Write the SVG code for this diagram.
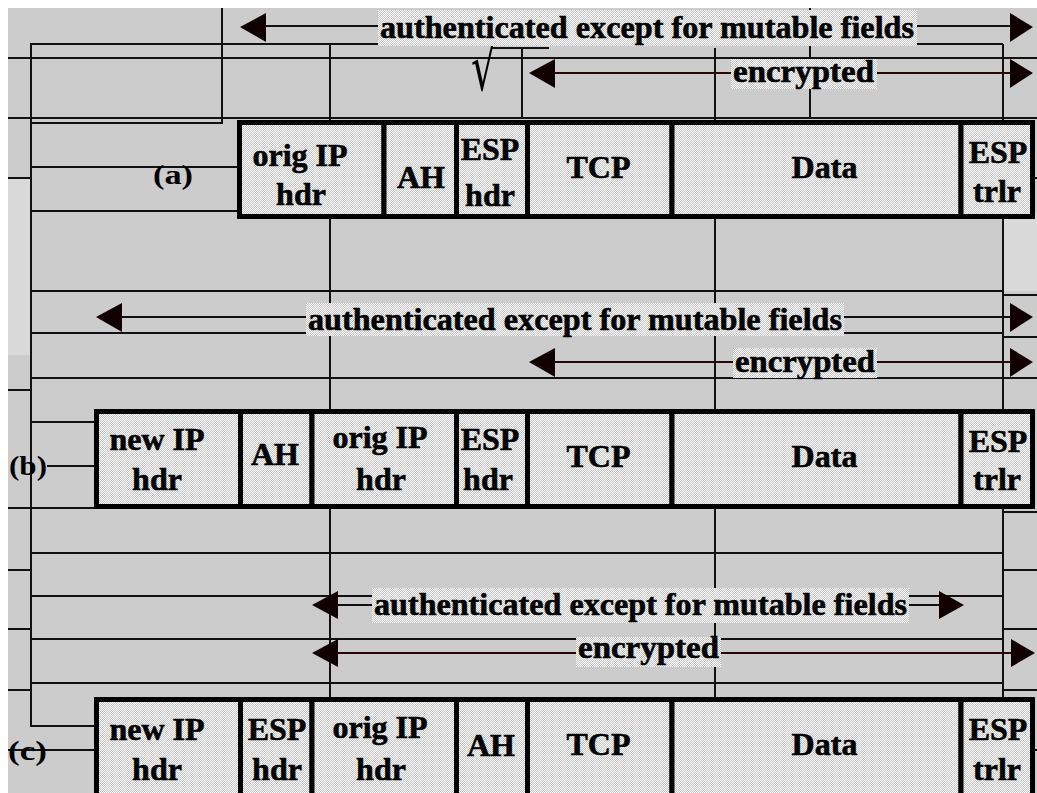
<svg xmlns="http://www.w3.org/2000/svg" width="1037" height="793" viewBox="0 0 1037 793">
<defs>
<pattern id="dith" width="2" height="2" patternUnits="userSpaceOnUse">
<rect width="2" height="2" fill="#c4c4c4"/>
<rect x="0" y="0" width="1" height="1" fill="#ffffff"/>
<rect x="1" y="1" width="1" height="1" fill="#ffffff"/>
</pattern>
</defs>
<style>
.g line{stroke:#111;stroke-width:2}
.cell{fill:url(#dith);stroke:#000;stroke-width:5}
.t{font-family:"Liberation Serif","Times New Roman",serif;font-weight:bold;font-size:32px;fill:#000;stroke:#000;stroke-width:0.6}
.c{text-anchor:middle}
.lbg{fill:url(#dith)}
.shaft{stroke:#111;stroke-width:2}
.enc{stroke:#2a0505;stroke-width:2}
.head{fill:#110000}
.tag{font-family:"Liberation Serif","Times New Roman",serif;font-weight:bold;font-size:28px;fill:#000}
</style>
<rect width="1037" height="793" fill="#ffffff"/>
<rect x="8" y="8" width="1029" height="785" fill="#cccccc"/>
<rect x="8" y="178" width="23" height="177" fill="#d9d9d9"/>
<rect x="1004" y="213" width="33" height="78" fill="#d9d9d9"/>

<g id="grid" class="g">
<line x1="31" y1="43" x2="31" y2="727"/>
<line x1="222" y1="8" x2="222" y2="124"/>
<line x1="330" y1="43" x2="330" y2="699"/>
<line x1="522" y1="48" x2="522" y2="118"/>
<line x1="715" y1="48" x2="715" y2="699"/>
<line x1="810" y1="8" x2="810" y2="118"/>
<line x1="1003" y1="44" x2="1003" y2="699"/>
<line x1="31" y1="44" x2="1003" y2="44"/>
<line x1="8" y1="58" x2="1037" y2="58"/>
<line x1="8" y1="118" x2="1037" y2="118"/>
<line x1="31" y1="123" x2="222" y2="123"/>
<line x1="31" y1="167" x2="238" y2="167"/>
<line x1="8" y1="178" x2="31" y2="178"/>
<line x1="1033" y1="178" x2="1037" y2="178"/>
<line x1="31" y1="211" x2="238" y2="211"/>
<line x1="31" y1="291" x2="1003" y2="291"/>
<line x1="1003" y1="295" x2="1037" y2="295"/>
<line x1="31" y1="333" x2="1003" y2="333"/>
<line x1="1003" y1="337" x2="1037" y2="337"/>
<line x1="31" y1="378" x2="1037" y2="378"/>
<line x1="8" y1="390" x2="31" y2="390"/>
<line x1="31" y1="422" x2="94" y2="422"/>
<line x1="47" y1="466" x2="94" y2="466"/>
<line x1="8" y1="508" x2="1003" y2="508"/>
<line x1="1003" y1="512" x2="1037" y2="512"/>
<line x1="31" y1="553" x2="1003" y2="553"/>
<line x1="8" y1="570" x2="31" y2="570"/>
<line x1="1003" y1="570" x2="1037" y2="570"/>
<line x1="31" y1="596" x2="1003" y2="596"/>
<line x1="8" y1="629" x2="31" y2="629"/>
<line x1="1003" y1="629" x2="1037" y2="629"/>
<line x1="31" y1="639" x2="1003" y2="639"/>
<line x1="31" y1="683" x2="1003" y2="683"/>
<line x1="8" y1="690" x2="31" y2="690"/>
<line x1="1003" y1="690" x2="1037" y2="690"/>
<line x1="31" y1="726" x2="94" y2="726"/>
<line x1="8" y1="750" x2="94" y2="750"/>
<line x1="1033" y1="750" x2="1037" y2="750"/>
<line x1="492" y1="48" x2="549" y2="48"/>
</g>
<text transform="translate(471,90) scale(1,1.6)" x="0" y="0" style="font-family:'DejaVu Serif',serif;font-size:40px;fill:#000">√</text>

<g id="packet-a">
<g id="a-orig-ip"><rect class="cell" x="239.5" y="122.5" width="144.5" height="94"/><text class="t c" x="300" y="166">orig IP</text><text class="t c" x="301" y="205">hdr</text></g>
<g id="a-ah"><rect class="cell" x="384" y="122.5" width="72.5" height="94"/><text class="t c" x="421" y="188">AH</text></g>
<g id="a-esp-hdr"><rect class="cell" x="456.5" y="122.5" width="71" height="94"/><text class="t c" x="490" y="160">ESP</text><text class="t c" x="490" y="206">hdr</text></g>
<g id="a-tcp"><rect class="cell" x="527.5" y="122.5" width="144.5" height="94"/><text class="t c" x="598.5" y="178">TCP</text></g>
<g id="a-data"><rect class="cell" x="672" y="122.5" width="289" height="94"/><text class="t c" x="824.5" y="178">Data</text></g>
<g id="a-esp-trlr"><rect class="cell" x="961" y="122.5" width="71.5" height="94"/><text class="t c" x="998" y="163">ESP</text><text class="t c" x="997" y="202">trlr</text></g>
<text class="tag" x="153" y="184" textLength="40" lengthAdjust="spacingAndGlyphs">(a)</text>
</g>

<g id="packet-b">
<g id="b-new-ip"><rect class="cell" x="96.5" y="411.5" width="144" height="95"/><text class="t c" x="157" y="450">new IP</text><text class="t c" x="157" y="490">hdr</text></g>
<g id="b-ah"><rect class="cell" x="240.5" y="411.5" width="71.5" height="95"/><text class="t c" x="275" y="465">AH</text></g>
<g id="b-orig-ip"><rect class="cell" x="312" y="411.5" width="144.5" height="95"/><text class="t c" x="380" y="448">orig IP</text><text class="t c" x="381" y="490">hdr</text></g>
<g id="b-esp-hdr"><rect class="cell" x="456.5" y="411.5" width="71" height="95"/><text class="t c" x="490" y="450">ESP</text><text class="t c" x="488" y="490">hdr</text></g>
<g id="b-tcp"><rect class="cell" x="527.5" y="411.5" width="144.5" height="95"/><text class="t c" x="598.5" y="467">TCP</text></g>
<g id="b-data"><rect class="cell" x="672" y="411.5" width="289" height="95"/><text class="t c" x="824.5" y="467">Data</text></g>
<g id="b-esp-trlr"><rect class="cell" x="961" y="411.5" width="71.5" height="95"/><text class="t c" x="998" y="452">ESP</text><text class="t c" x="997" y="490">trlr</text></g>
<text class="tag" x="9" y="475" textLength="38" lengthAdjust="spacingAndGlyphs">(b)</text>
</g>

<g id="packet-c">
<g id="c-new-ip"><rect class="cell" x="96.5" y="699.5" width="144" height="115"/><text class="t c" x="157" y="740">new IP</text><text class="t c" x="157" y="780">hdr</text></g>
<g id="c-esp-hdr"><rect class="cell" x="240.5" y="699.5" width="71.5" height="115"/><text class="t c" x="277" y="740">ESP</text><text class="t c" x="277" y="780">hdr</text></g>
<g id="c-orig-ip"><rect class="cell" x="312" y="699.5" width="144.5" height="115"/><text class="t c" x="380" y="738">orig IP</text><text class="t c" x="381" y="780">hdr</text></g>
<g id="c-ah"><rect class="cell" x="456.5" y="699.5" width="71" height="115"/><text class="t c" x="491" y="756">AH</text></g>
<g id="c-tcp"><rect class="cell" x="527.5" y="699.5" width="144.5" height="115"/><text class="t c" x="598.5" y="755">TCP</text></g>
<g id="c-data"><rect class="cell" x="672" y="699.5" width="289" height="115"/><text class="t c" x="824.5" y="755">Data</text></g>
<g id="c-esp-trlr"><rect class="cell" x="961" y="699.5" width="71.5" height="115"/><text class="t c" x="998" y="740">ESP</text><text class="t c" x="997" y="780">trlr</text></g>
<text class="tag" x="8" y="760" textLength="39" lengthAdjust="spacingAndGlyphs">(c)</text>
</g>

<g id="connectors">
<line class="shaft" x1="262" y1="26" x2="378" y2="26"/>
<line class="shaft" x1="917" y1="26" x2="1012" y2="26"/>
<polygon class="head" points="240,27 266,13 266,42"/>
<polygon class="head" points="1033,27 1010,13 1010,42"/>
<rect class="lbg" x="378" y="10" width="539" height="36"/>
<text class="t" x="380" y="38" textLength="534" lengthAdjust="spacingAndGlyphs">authenticated except for mutable fields</text>
<line class="enc" x1="550" y1="73" x2="731" y2="73"/>
<line class="enc" x1="877" y1="73" x2="1012" y2="73"/>
<polygon class="head" points="529,73 555,59 555,88"/>
<polygon class="head" points="1033,73 1010,59 1010,88"/>
<rect class="lbg" x="731" y="59" width="146" height="30"/>
<text class="t" x="733" y="82" textLength="141" lengthAdjust="spacingAndGlyphs">encrypted</text>
<line class="shaft" x1="118" y1="317" x2="306" y2="317"/>
<line class="shaft" x1="844" y1="317" x2="1012" y2="317"/>
<polygon class="head" points="96,317 122,303 122,332"/>
<polygon class="head" points="1033,317 1010,303 1010,332"/>
<rect class="lbg" x="306" y="303" width="538" height="33"/>
<text class="t" x="308" y="330" textLength="534" lengthAdjust="spacingAndGlyphs">authenticated except for mutable fields</text>
<line class="enc" x1="550" y1="362" x2="733" y2="362"/>
<line class="enc" x1="877" y1="362" x2="1012" y2="362"/>
<polygon class="head" points="529,362 555,348 555,377"/>
<polygon class="head" points="1033,362 1010,348 1010,377"/>
<rect class="lbg" x="733" y="348" width="144" height="30"/>
<text class="t" x="735" y="372" textLength="140" lengthAdjust="spacingAndGlyphs">encrypted</text>
<line class="shaft" x1="335" y1="605" x2="372" y2="605"/>
<line class="shaft" x1="909" y1="605" x2="942" y2="605"/>
<polygon class="head" points="312,605 338,591 338,619"/>
<polygon class="head" points="964,605 939,591 939,619"/>
<rect class="lbg" x="372" y="588" width="537" height="35"/>
<text class="t" x="374" y="615" textLength="533" lengthAdjust="spacingAndGlyphs">authenticated except for mutable fields</text>
<line class="enc" x1="335" y1="653" x2="576" y2="653"/>
<line class="enc" x1="721" y1="653" x2="1012" y2="653"/>
<polygon class="head" points="312,653 338,639 338,667"/>
<polygon class="head" points="1035,653 1011,639 1011,667"/>
<rect class="lbg" x="576" y="637" width="145" height="30"/>
<text class="t" x="578" y="658" textLength="141" lengthAdjust="spacingAndGlyphs">encrypted</text>
</g>
</svg>
